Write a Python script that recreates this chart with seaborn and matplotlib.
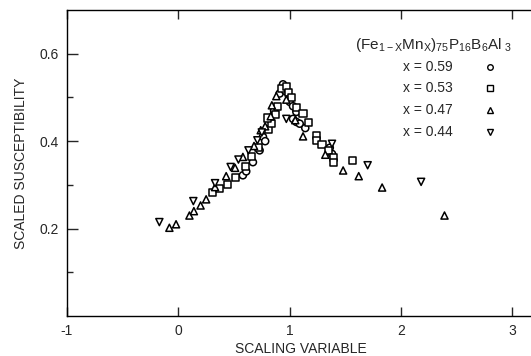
import matplotlib
matplotlib.use("Agg")
import matplotlib.pyplot as plt
import seaborn as sns
import pandas as pd
from matplotlib.ticker import FixedLocator

# x = 0.59 (circles)
circ_x = [0.58, 0.61, 0.67, 0.73, 0.76, 0.78, 0.86, 0.91, 0.94, 0.96, 1.00, 1.03, 1.03, 1.06, 1.06, 1.09, 1.14, 1.38, 1.36]
circ_y = [0.322, 0.331, 0.352, 0.379, 0.41, 0.40, 0.47, 0.509, 0.53, 0.515, 0.49, 0.48, 0.451, 0.467, 0.444, 0.44, 0.43, 0.371, 0.385]
# x = 0.53 (squares)
sq_x = [0.31, 0.37, 0.44, 0.51, 0.60, 0.66, 0.72, 0.81, 0.84, 0.80, 0.87, 0.89, 0.93, 0.97, 0.99, 1.02, 1.06, 1.12, 1.17, 1.24, 1.24, 1.29, 1.35, 1.39, 1.39, 1.56]
sq_y = [0.282, 0.291, 0.301, 0.317, 0.342, 0.365, 0.385, 0.427, 0.44, 0.453, 0.46, 0.48, 0.52, 0.524, 0.512, 0.50, 0.476, 0.464, 0.442, 0.413, 0.402, 0.393, 0.379, 0.362, 0.351, 0.356]
# x = 0.47 (up triangles)
tri_x = [-0.08, -0.02, 0.10, 0.14, 0.20, 0.25, 0.33, 0.43, 0.51, 0.58, 0.68, 0.74, 0.78, 0.83, 0.84, 0.88, 0.97, 1.05, 1.12, 1.32, 1.48, 1.62, 1.83, 2.39]
tri_y = [0.202, 0.21, 0.23, 0.24, 0.253, 0.267, 0.295, 0.32, 0.339, 0.364, 0.389, 0.425, 0.434, 0.457, 0.482, 0.503, 0.495, 0.448, 0.411, 0.369, 0.333, 0.32, 0.294, 0.23]
# x = 0.44 (down triangles)
inv_x = [-0.17, 0.135, 0.33, 0.47, 0.54, 0.63, 0.71, 0.75, 0.97, 1.38, 1.70, 2.18]
inv_y = [0.215, 0.263, 0.304, 0.341, 0.358, 0.379, 0.402, 0.42, 0.451, 0.394, 0.345, 0.307]

series_labels = ["x = 0.59", "x = 0.53", "x = 0.47", "x = 0.44"]
series_markers = ["o", "s", "^", "v"]

frames = []
for lab, xs, ys in zip(series_labels, [circ_x, sq_x, tri_x, inv_x], [circ_y, sq_y, tri_y, inv_y]):
    frames.append(pd.DataFrame({"x": xs, "y": ys, "series": lab}))
df = pd.concat(frames, ignore_index=True)

sns.set_style("ticks")
plt.rcParams["font.family"] = ["Liberation Sans", "DejaVu Sans"]
plt.rcParams["mathtext.default"] = "regular"

fig = plt.figure(figsize=(5.31, 3.56), dpi=100)
ax = fig.add_axes([0.126, 0.112, 0.881, 0.860])

sns.scatterplot(data=df, x="x", y="y", style="series",
                markers=dict(zip(series_labels, series_markers)),
                s=26, facecolor="white", edgecolor="black", linewidth=1.1,
                color="black", legend=False, ax=ax)

ax.set_xlim(-1, 3.2)
ax.set_ylim(0, 0.7)
ax.xaxis.set_major_locator(FixedLocator([-1, 0, 1, 2, 3]))
ax.set_xticklabels(["-1", "0", "1", "2", "3"])
ax.yaxis.set_major_locator(FixedLocator([0.2, 0.4, 0.6]))
ax.set_yticklabels(["0.2", "0.4", "0.6"])
ax.yaxis.set_minor_locator(FixedLocator([0.1, 0.3, 0.5]))
ax.tick_params(axis="x", which="major", direction="in", length=6.5, width=1, top=True, labelsize=10, pad=6)
ax.tick_params(axis="y", which="major", direction="in", length=8, width=1, labelsize=10, pad=6)
ax.tick_params(axis="y", which="minor", direction="in", length=4.3, width=1)
for sp in ["left", "bottom", "top"]:
    ax.spines[sp].set_linewidth(1.0)
    ax.spines[sp].set_color("black")
ax.spines["right"].set_visible(False)

ax.set_xlabel("SCALING VARIABLE", fontsize=10, va="center")
ax.xaxis.set_label_coords(0.5, -0.108)
ax.set_ylabel("SCALED SUSCEPTIBILITY", fontsize=10, labelpad=8)

# legend block
fig.text(355/531, 1 - 45/356, r"$(Fe_{1-X}Mn_{X})_{75}P_{16}B_{6}Al_{\ 3}$",
         fontsize=11, ha="left", va="center")
row_y = [66.7, 88.3, 110, 131.7]
for lab, mk, ry in zip(series_labels, series_markers, row_y):
    fig.text(453/531, 1 - ry/356, lab, fontsize=10, ha="right", va="center")
    ax.plot([490/531], [1 - ry/356], marker=mk, ms=4, mfc="white", mec="black",
            mew=1.0, transform=fig.transFigure, clip_on=False, linestyle="none")

fig.savefig("out.png", dpi=100)
